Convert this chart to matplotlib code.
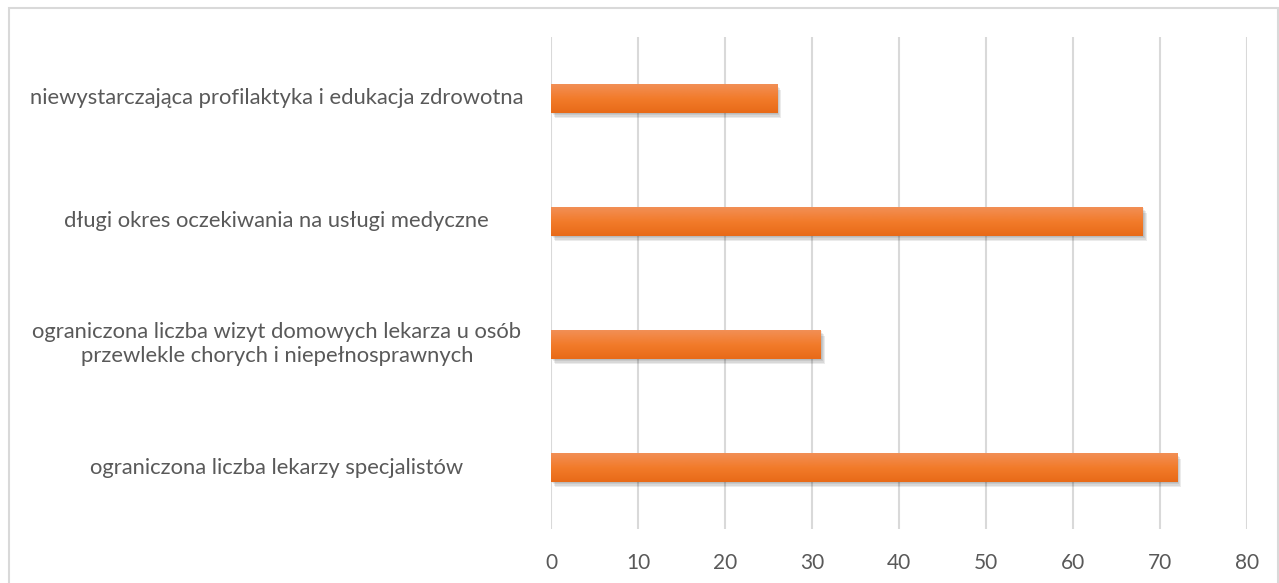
import matplotlib.pyplot as plt
import matplotlib.transforms as mtransforms
import numpy as np
from matplotlib.patches import Rectangle

categories = [
    "ograniczona liczba lekarzy specjalistów",
    "ograniczona liczba wizyt domowych lekarza u osób\nprzewlekle chorych i niepełnosprawnych",
    "długi okres oczekiwania na usługi medyczne",
    "niewystarczająca profilaktyka i edukacja zdrowotna",
]
values = [72, 31, 68, 26]
xticks = [0, 10, 20, 30, 40, 50, 60, 70, 80]

plt.rcParams['font.family'] = ['Lato', 'DejaVu Sans']

fig = plt.figure(figsize=(12.79, 5.83), dpi=100)
# frame around the chart
fig.patches.append(Rectangle((9 / 1279, -0.1), 1269 / 1279, 1.1 - 8 / 583,
                             transform=fig.transFigure, fill=False,
                             edgecolor='#d9d9d9', linewidth=1.5))

ax = fig.add_axes([551 / 1279, (583 - 529) / 583, (1247 - 551) / 1279, (529 - 37) / 583])

bar_h = 0.23
y = np.arange(len(categories))

# gradient for the bars (dark at bottom, light on top)
grad = np.linspace(0, 1, 64).reshape(-1, 1)
cmap = plt.matplotlib.colors.LinearSegmentedColormap.from_list(
    'bar', ['#f28f55', '#f27b2a', '#e86a18'])

for yi, v in zip(y, values):
    for k, a in enumerate([0.07, 0.07, 0.08, 0.08]):
        ax.add_patch(Rectangle((0, yi - bar_h / 2), v, bar_h, facecolor='#000000',
                               alpha=a, linewidth=0, zorder=2,
                               transform=mtransforms.offset_copy(
                                   ax.transData, fig=fig, x=1 + k, y=-(1 + 1.5 * k), units='dots')))
    ax.imshow(grad, cmap=cmap, aspect='auto', origin='upper',
              extent=(0, v, yi - bar_h / 2, yi + bar_h / 2), zorder=3)

ax.set_xlim(0, 80)
ax.set_ylim(-0.5, len(categories) - 0.5)
ax.set_xticks(xticks)
ax.set_yticks(y)
ax.set_yticklabels([])
ax.tick_params(axis='y', length=0)
lab_tr = mtransforms.blended_transform_factory(ax.transAxes, ax.transData)
for yi, lab in zip(y, categories):
    ax.text(-0.394, yi, lab, transform=lab_tr, ha='center', va='center',
            fontsize=15.8, color='#595959', linespacing=1.25)
ax.tick_params(axis='x', length=0, labelsize=15, labelcolor='#595959', pad=17)
ax.grid(axis='x', color='#d9d9d9', linewidth=1.5, zorder=0)
ax.set_axisbelow(True)
for s in ax.spines.values():
    s.set_visible(False)

fig.savefig('out.png', dpi=100)
